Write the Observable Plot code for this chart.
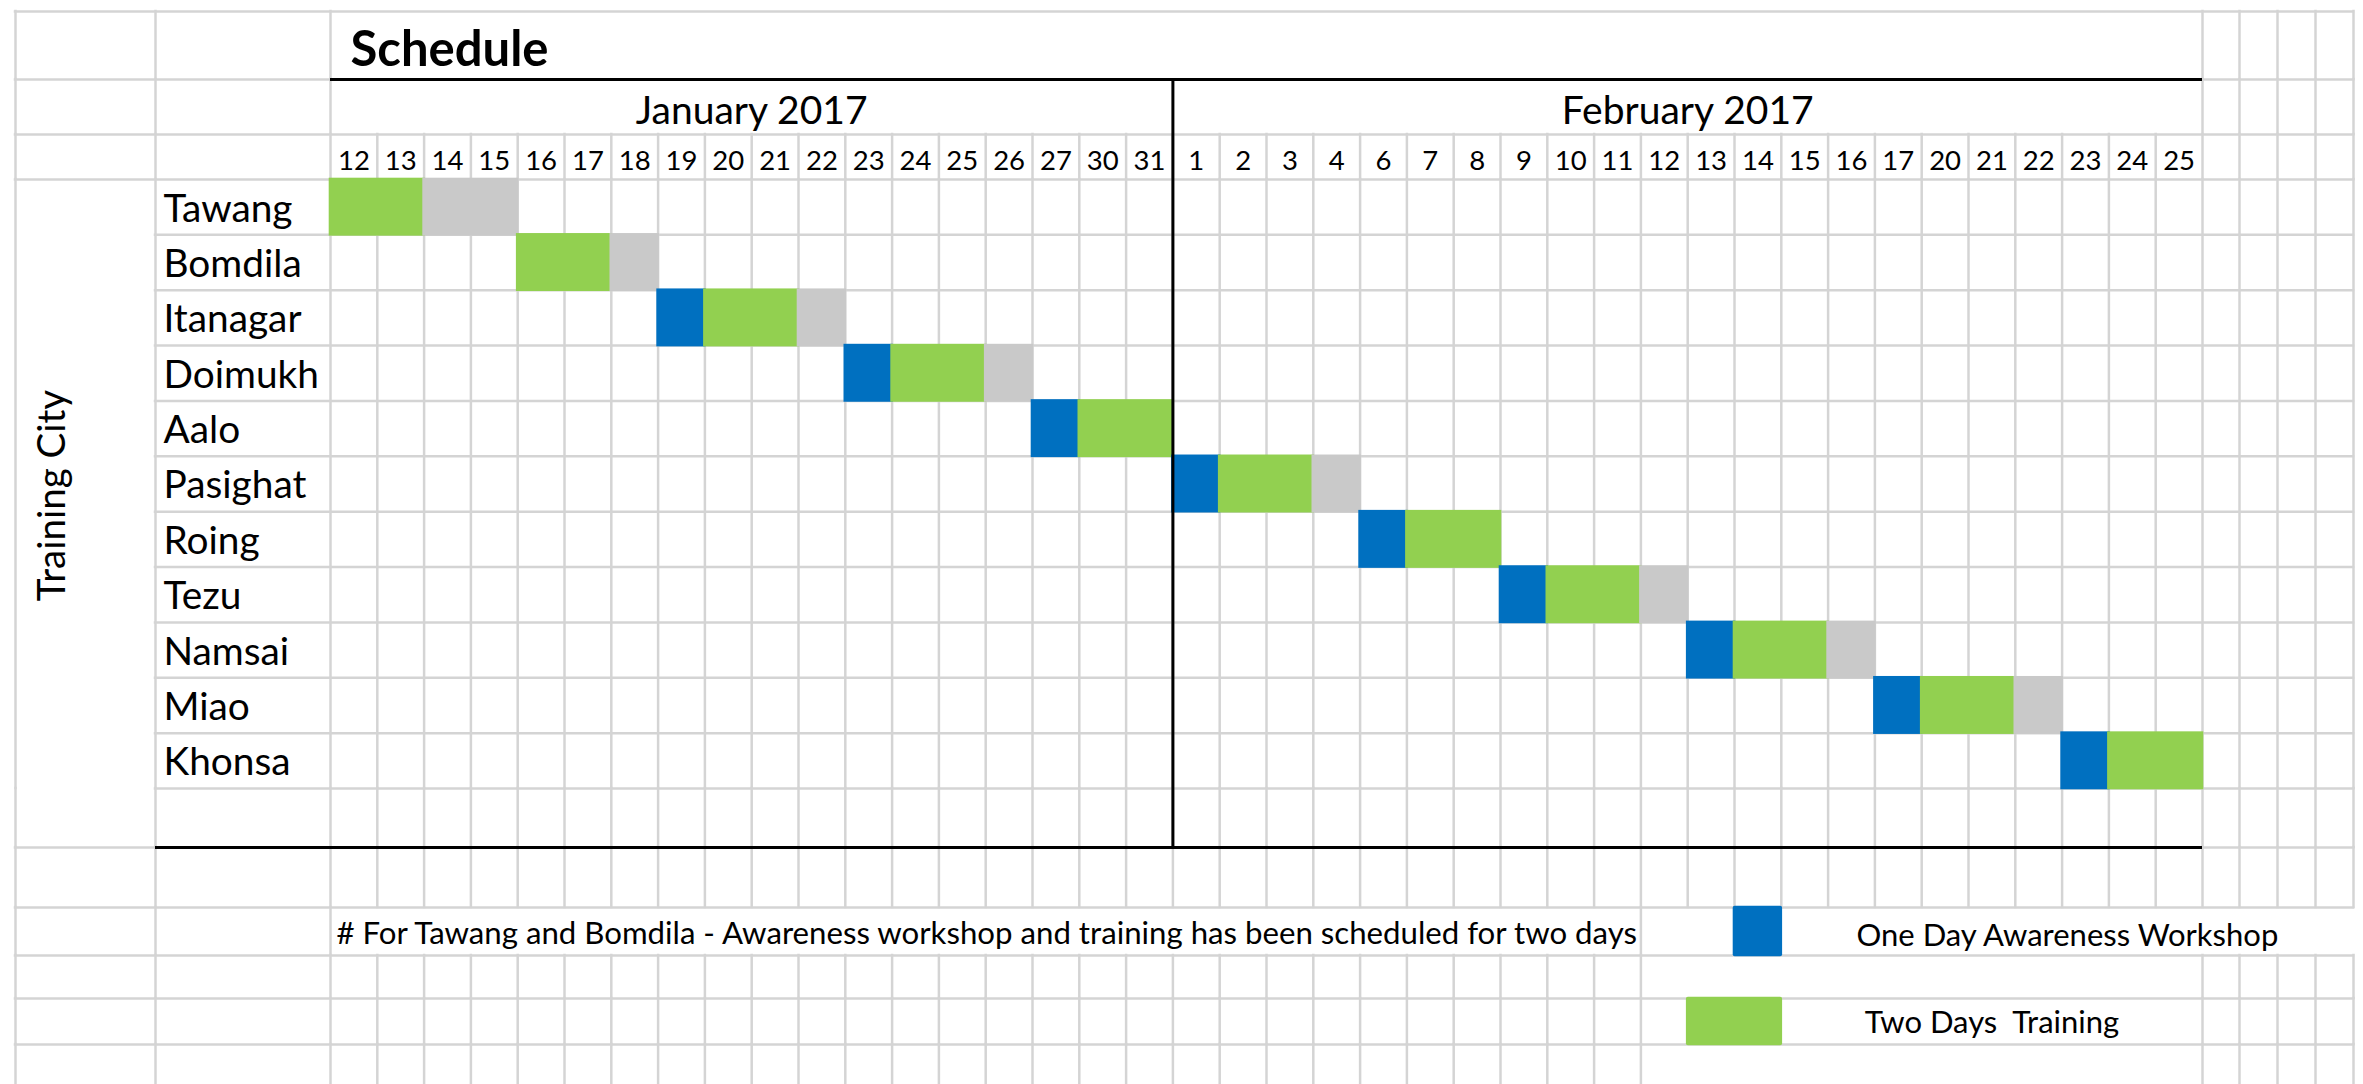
<!DOCTYPE html>
<html>
<head>
<meta charset="utf-8">
<script src="https://cdn.jsdelivr.net/npm/d3@7"></script>
<script src="https://cdn.jsdelivr.net/npm/@observablehq/plot@0.6"></script>
<style>
  html, body { margin: 0; padding: 0; background: #fff; overflow: hidden; }
  #chart svg { display: block; }
  #chart text { white-space: pre; }
</style>
</head>
<body>
<div id="chart"></div>
<script>
// ---------------- data ----------------
const title = "Schedule";
const yLabel = "Training City";
const months = ["January 2017", "February 2017"];
const janDays = [12, 13, 14, 15, 16, 17, 18, 19, 20, 21, 22, 23, 24, 25, 26, 27, 30, 31];
const febDays = [1, 2, 3, 4, 6, 7, 8, 9, 10, 11, 12, 13, 14, 15, 16, 17, 20, 21, 22, 23, 24, 25];
const cities = ["Tawang", "Bomdila", "Itanagar", "Doimukh", "Aalo", "Pasighat", "Roing", "Tezu", "Namsai", "Miao", "Khonsa"];
// one day awareness workshop (null = combined into the two-day programme)
const workshopDay = [null, null, "Jan 19", "Jan 23", "Jan 27", "Feb 1", "Feb 6", "Feb 9", "Feb 13", "Feb 17", "Feb 23"];
// two days training
const trainingDays = [
  ["Jan 12", "Jan 13"], ["Jan 16", "Jan 17"], ["Jan 20", "Jan 21"], ["Jan 24", "Jan 25"], ["Jan 30", "Jan 31"],
  ["Feb 2", "Feb 3"], ["Feb 7", "Feb 8"], ["Feb 10", "Feb 11"], ["Feb 14", "Feb 15"], ["Feb 20", "Feb 21"], ["Feb 24", "Feb 25"]
];
// grey (travel / buffer) days
const bufferDays = [
  ["Jan 14", "Jan 15"], ["Jan 18"], ["Jan 22"], ["Jan 26"], [],
  ["Feb 4"], [], ["Feb 12"], ["Feb 16"], ["Feb 22"], []
];
const activityTypes = ["workshop", "training", "buffer"];
const legendLabels = ["One Day Awareness Workshop", "Two Days  Training"];
const note = "# For Tawang and Bomdila - Awareness workshop and training has been scheduled for two days";

// ---------------- derived tables ----------------
const dayKeys = [...janDays.map(d => `Jan ${d}`), ...febDays.map(d => `Feb ${d}`)];
const dayLabels = [...janDays, ...febDays];
const col = new Map(dayKeys.map((k, i) => [k, i]));
const nCols = dayKeys.length, nRows = cities.length;

const monthSpans = [
  {label: months[0], from: col.get(`Jan ${janDays[0]}`), to: col.get(`Jan ${janDays[janDays.length - 1]}`) + 1},
  {label: months[1], from: col.get(`Feb ${febDays[0]}`), to: col.get(`Feb ${febDays[febDays.length - 1]}`) + 1}
];

const activities = [];
cities.forEach((city, i) => {
  if (workshopDay[i]) activities.push({city, row: i, type: "workshop", from: col.get(workshopDay[i]), to: col.get(workshopDay[i]) + 1});
  const t = trainingDays[i];
  activities.push({city, row: i, type: "training", from: col.get(t[0]), to: col.get(t[t.length - 1]) + 1});
  const b = bufferDays[i];
  if (b.length) activities.push({city, row: i, type: "buffer", from: col.get(b[0]), to: col.get(b[b.length - 1]) + 1});
});

// ---------------- layout (spreadsheet frame) ----------------
const W = 2363, H = 1084;
const X0 = 330, X1 = 2202, Y0 = 179, Y1 = 788;
const cw = (X1 - X0) / nCols, rh = (Y1 - Y0) / nRows;
const ux = px => (px - X0) / cw;   // frame pixel -> column units
const uy = px => (px - Y0) / rh;   // frame pixel -> row units
const noteEndCol = 28;

const leftEdges = [ux(15), ux(155), 0];
const rightEdges = [nCols, ux(2239), ux(2277), ux(2315), ux(2353)];
const xL = ux(15), xR = ux(2353), xCity = ux(155);

const bands = [
  {name: "title", y1: uy(11), y2: uy(79)},
  {name: "month", y1: uy(79), y2: uy(134)},
  {name: "days", y1: uy(134), y2: 0},
  {name: "cities", y1: 0, y2: nRows},
  {name: "empty", y1: nRows, y2: uy(847)},
  {name: "r1", y1: uy(847), y2: uy(907)},
  {name: "note", y1: uy(907), y2: uy(955)},
  {name: "r3", y1: uy(955), y2: uy(998)},
  {name: "leg", y1: uy(998), y2: uy(1044)},
  {name: "r5", y1: uy(1044), y2: uy(1100)}
];

const vSeg = [];
for (const b of bands) {
  for (const x of leftEdges) vSeg.push({x, y1: b.y1, y2: b.y2});
  for (let k = 1; k < nCols; k++) {
    let on;
    if (b.name === "title" || b.name === "month") on = false;
    else if (b.name === "note") on = k === noteEndCol;
    else if (b.name === "r3" || b.name === "leg" || b.name === "r5") on = k <= noteEndCol;
    else on = true;
    if (on) vSeg.push({x: k, y1: b.y1, y2: b.y2});
  }
  if (b.name !== "note") for (const x of rightEdges) vSeg.push({x, y1: b.y1, y2: b.y2});
}
// the Training City cell spans the city rows in column 1
const hSeg = [
  {y: uy(11), x1: xL, x2: xR},
  {y: uy(79), x1: xL, x2: 0}, {y: uy(79), x1: nCols, x2: xR},
  {y: uy(134), x1: xL, x2: xR},
  {y: 0, x1: xL, x2: xR},
  {y: uy(847), x1: xL, x2: xCity}, {y: uy(847), x1: nCols, x2: xR},
  ...[907, 955, 998, 1044].map(p => ({y: uy(p), x1: xL, x2: xR}))
];
for (let i = 1; i <= nRows; i++) hSeg.push({y: i, x1: xCity, x2: xR});

const blackH = [{y: uy(79), x1: 0, x2: nCols}, {y: uy(847), x1: xCity, x2: nCols}];
const blackV = [{x: monthSpans[1].from, y1: uy(79), y2: uy(847)}];

const legendCells = [
  {type: "workshop", x1: 30, x2: 31, y1: uy(907), y2: uy(955), label: legendLabels[0], tx: (31 + ux(2353)) / 2, ty: uy(945)},
  {type: "training", x1: 29, x2: 31, y1: uy(998), y2: uy(1044), label: legendLabels[1], tx: (31 + nCols) / 2, ty: uy(1032)}
];

const grid = "#D4D4D4";
const font = "Lato, 'Open Sans', sans-serif";

const chart = Plot.plot({
  width: W,
  height: H,
  marginLeft: X0,
  marginRight: W - X1,
  marginTop: Y0,
  marginBottom: H - Y1,
  style: {background: "#fff", fontFamily: font, color: "#000"},
  x: {type: "linear", domain: [0, nCols], axis: null},
  y: {type: "linear", domain: [0, nRows], reverse: true, axis: null},
  color: {domain: activityTypes, range: ["#0070C0", "#92D050", "#C9C9C9"]},
  marks: [
    // spreadsheet gridlines
    Plot.ruleX(vSeg, {x: "x", y1: "y1", y2: "y2", stroke: grid, strokeWidth: 2.5, strokeLinecap: "square"}),
    Plot.ruleY(hSeg, {y: "y", x1: "x1", x2: "x2", stroke: grid, strokeWidth: 2.5, strokeLinecap: "square"}),
    // gantt bars
    Plot.rect(activities, {x1: "from", x2: "to", y1: d => d.row, y2: d => d.row + 1, fill: "type", inset: -1.3}),
    // legend swatches
    Plot.rect(legendCells, {x1: "x1", x2: "x2", y1: "y1", y2: "y2", fill: "type", inset: -1.3, rx: 2}),
    // black borders
    Plot.ruleY(blackH, {y: "y", x1: "x1", x2: "x2", stroke: "#000", strokeWidth: 3}),
    Plot.ruleX(blackV, {x: "x", y1: "y1", y2: "y2", stroke: "#000", strokeWidth: 3}),
    // title
    Plot.text([title], {x: () => ux(350), y: () => uy(65), text: d => d, textAnchor: "start", lineAnchor: "bottom", fontWeight: "bold", fontSize: 49, fill: "#000"}),
    // months
    Plot.text(monthSpans, {x: d => (d.from + d.to) / 2, y: () => uy(123), text: "label", lineAnchor: "bottom", fontSize: 39, fill: "#000"}),
    // days
    Plot.text(dayKeys, {x: (d, i) => i + 0.5, y: () => uy(169), text: (d, i) => String(dayLabels[i]), lineAnchor: "bottom", fontSize: 27.5, fill: "#000"}),
    // cities
    Plot.text(cities, {x: () => ux(163), y: (d, i) => i + 0.5, text: d => d, textAnchor: "start", lineAnchor: "middle", dy: 2, fontSize: 38.8, fill: "#000"}),
    // y title
    Plot.text([yLabel], {x: () => ux(52), y: () => uy(495), text: d => d, rotate: -90, lineAnchor: "middle", fontSize: 38.5, fill: "#000"}),
    // note
    Plot.text([note], {x: () => ux(336), y: () => uy(943), text: d => d, textAnchor: "start", lineAnchor: "bottom", fontSize: 31.2, fill: "#000"}),
    // legend labels
    Plot.text(legendCells, {x: "tx", y: "ty", text: "label", lineAnchor: "bottom", fontSize: 31, fill: "#000"})
  ]
});
document.getElementById("chart").appendChild(chart);
</script>
</body>
</html>
